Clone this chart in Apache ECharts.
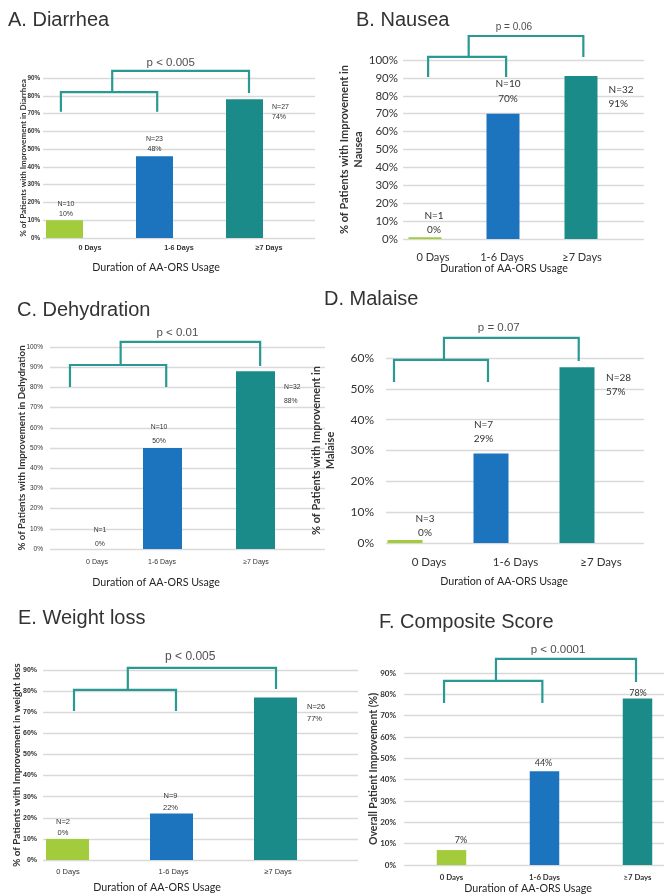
<!DOCTYPE html>
<html><head><meta charset="utf-8">
<script src="https://cdn.jsdelivr.net/npm/echarts@6/dist/echarts.min.js"></script>
<style>html,body{margin:0;padding:0;background:#fff}#c{width:672px;height:896px}</style>
</head><body><div id="c"></div>
<script>
// ---------------- DATA ----------------
const categories = ['0 Days', '1-6 Days', '\u22657 Days'];
const xAxisTitle = 'Duration of AA-ORS Usage';

const diarrheaValues = [10, 46, 78];
const diarrheaN = ['N=10', 'N=23', 'N=27'];
const diarrheaPct = ['10%', '48%', '74%'];
const diarrheaP = 'p < 0.005';

const nauseaValues = [1, 70, 91];
const nauseaN = ['N=1', 'N=10', 'N=32'];
const nauseaPct = ['0%', '70%', '91%'];
const nauseaP = 'p = 0.06';

const dehydrationValues = [0, 50, 88];
const dehydrationN = ['N=1', 'N=10', 'N=32'];
const dehydrationPct = ['0%', '50%', '88%'];
const dehydrationP = 'p < 0.01';

const malaiseValues = [1, 29, 57];
const malaiseN = ['N=3', 'N=7', 'N=28'];
const malaisePct = ['0%', '29%', '57%'];
const malaiseP = 'p = 0.07';

const weightValues = [10, 22, 77];
const weightN = ['N=2', 'N=9', 'N=26'];
const weightPct = ['0%', '22%', '77%'];
const weightP = 'p < 0.005';

const compositeValues = [7, 44, 78];
const compositePct = ['7%', '44%', '78%'];
const compositeP = 'p < 0.0001';

// bracket annotations in data units: [category position, percent]
const diarrheaBracketLow = [[-0.04, 71], [-0.04, 82], [1.03, 82], [1.03, 71]];
const diarrheaBracketHigh = [[0.53, 82], [0.53, 94], [2.05, 94], [2.05, 81.5]];
const nauseaBracketLow = [[0.04, 90.5], [0.04, 101.7], [1.04, 101.7], [1.04, 90.5]];
const nauseaBracketHigh = [[0.56, 101.7], [0.56, 113.4], [2.03, 113.4], [2.03, 101.7]];
const dehydrationBracketLow = [[0.005, 80.2], [0.005, 91.1], [1.04, 91.1], [1.04, 80.2]];
const dehydrationBracketHigh = [[0.55, 91.1], [0.55, 102.5], [2.05, 102.5], [2.05, 90.6]];
const malaiseBracketLow = [[-0.128, 52.2], [-0.128, 59.4], [0.965, 59.4], [0.965, 52.2]];
const malaiseBracketHigh = [[0.453, 59.4], [0.453, 66.5], [2.02, 66.5], [2.02, 59]];
const weightBracketLow = [[0.0625, 70.6], [0.0625, 80.6], [1.043, 80.6], [1.043, 70.6]];
const weightBracketHigh = [[0.58, 80.6], [0.58, 91], [2.005, 91], [2.005, 81]];
const compositeBracketLow = [[-0.08, 75.9], [-0.08, 86.3], [0.977, 86.3], [0.977, 75.9]];
const compositeBracketHigh = [[0.478, 86.3], [0.478, 96.6], [1.984, 96.6], [1.984, 85.8]];

// ---------------- STYLE / LAYOUT ----------------
const NARROW = '"Liberation Sans", Arial, sans-serif';
const LATO = 'Lato, "Open Sans", sans-serif';
const ARIAL = '"Liberation Sans", Arial, sans-serif';
const TEXT = '#333333';
const barColors = ['#a3cc3c', '#1c74bf', '#1b8b89'];
const bracketColor = '#2a9993';
const gridColor = '#d9d9d9';
function fnt(family, size, weight, color) {
  return { fontFamily: family, fontSize: size, fontWeight: weight || 'normal', color: color || TEXT };
}

const panels = [
  { title: 'A. Diarrhea', tx: 8, ty: 20, xtx: 156, xty: 268,
    values: diarrheaValues, n: diarrheaN, pct: diarrheaPct, p: diarrheaP, pPos: [1.18, 98.4], pFont: fnt(NARROW, 11.5, 'normal', '#222'),
    low: diarrheaBracketLow, high: diarrheaBracketHigh,
    yName: '% of Patients with Improvement in Diarrhea', yNameFont: fnt(LATO, 8.1, 'bold', '#333'), yNameGap: 16,
    yMax: 90, plot: { l: 43, r: 315, t: 78, b: 238 }, band: { l: 19.5, r: 289.5 }, barW: 37,
    tick: { font: fnt(NARROW, 6.3, 'bold'), margin: 3 },
    xLab: { font: fnt(NARROW, 7.2, 'bold'), margin: 7, shift: [25.5, 24.5, 24.5] },
    dl: { font: fnt(NARROW, 7), lh: 10, layout: [{ pos: 'top', dx: 1.5, d: 1 }, { pos: 'top', dx: 0, d: 2 }, { pos: 'right', gap: 9, dy: 3 }] } },
  { title: 'B. Nausea', tx: 356, ty: 20, xtx: 504, xty: 269,
    values: nauseaValues, n: nauseaN, pct: nauseaPct, p: nauseaP, pPos: [1.14, 118.4], pFont: fnt(NARROW, 10, 'normal', '#222'),
    low: nauseaBracketLow, high: nauseaBracketHigh,
    yName: '% of Patients with Improvement in\nNausea', yNameFont: Object.assign(fnt(LATO, 11, 'bold', '#333'), { lineHeight: 14 }), yNameGap: 38,
    yMax: 100, plot: { l: 403, r: 644, t: 60, b: 239 }, band: { l: 386, r: 620 }, barW: 33,
    tick: { font: fnt(LATO, 11.5, 'normal', '#333'), margin: 5 },
    xLab: { font: fnt(LATO, 11, 'normal', '#333'), margin: 12.5, shift: [8, -1, 1] },
    dl: { font: fnt(LATO, 10, 'normal', '#333'), lh: 14.5, layout: [{ pos: 'top', dx: 9, d: 0 }, { pos: 'top', dx: 5, d: 8 }, { pos: 'right', gap: 11, dy: 6 }] } },
  { title: 'C. Dehydration', tx: 17, ty: 310, xtx: 156, xty: 583,
    values: dehydrationValues, n: dehydrationN, pct: dehydrationPct, p: dehydrationP, pPos: [1.16, 106.9], pFont: fnt(NARROW, 11.5, 'normal', '#222'),
    low: dehydrationBracketLow, high: dehydrationBracketHigh,
    yName: '% of Patients with Improvement in Dehydration', yNameFont: fnt(LATO, 9.7, 'bold', '#333'), yNameGap: 23,
    yMax: 100, plot: { l: 50, r: 325, t: 347, b: 549 }, band: { l: 23, r: 302 }, barW: 39,
    tick: { font: fnt(NARROW, 6.5), margin: 7 },
    xLab: { font: fnt(NARROW, 7), margin: 10, shift: [27.5, -0.5, 0.5] },
    dl: { font: fnt(NARROW, 6.8), lh: 14, layout: [{ pos: 'top', dx: 30.5, d: -2 }, { pos: 'top', dx: -3.5, d: 0 }, { pos: 'right', gap: 9, dy: 9 }] } },
  { title: 'D. Malaise', tx: 324, ty: 299, xtx: 504, xty: 582,
    values: malaiseValues, n: malaiseN, pct: malaisePct, p: malaiseP, pPos: [1.09, 69.7], pFont: fnt(NARROW, 11.5, 'normal', '#222'),
    low: malaiseBracketLow, high: malaiseBracketHigh,
    yName: '% of Patients with Improvement in\nMalaise', yNameFont: Object.assign(fnt(LATO, 11, 'bold', '#333'), { lineHeight: 14 }), yNameGap: 49,
    yMax: 60, plot: { l: 386, r: 644, t: 358, b: 543 }, band: { l: 362, r: 620 }, barW: 35,
    tick: { font: fnt(LATO, 12, 'normal', '#333'), margin: 12 },
    xLab: { font: fnt(LATO, 11.5, 'normal', '#333'), margin: 13, shift: [24, 24.5, 24] },
    dl: { font: fnt(LATO, 10, 'normal', '#333'), lh: 14, layout: [{ pos: 'top', dx: 20, d: 0 }, { pos: 'top', dx: -7.5, d: 8 }, { pos: 'right', gap: 11.5, dy: 4 }] } },
  { title: 'E. Weight loss', tx: 18, ty: 618, xtx: 157, xty: 888,
    values: weightValues, n: weightN, pct: weightPct, p: weightP, pPos: [1.18, 96.2], pFont: fnt(NARROW, 12, 'normal', '#222'),
    low: weightBracketLow, high: weightBracketHigh,
    yName: '% of Patients with Improvement in weight loss', yNameFont: fnt(LATO, 9.9, 'bold', '#333'), yNameGap: 21,
    yMax: 90, plot: { l: 43, r: 358, t: 670, b: 860 }, band: { l: 15.5, r: 327.5 }, barW: 43,
    tick: { font: fnt(NARROW, 7, 'bold'), margin: 6 },
    xLab: { font: fnt(NARROW, 7.5), margin: 8, shift: [0.5, 2, 2.5] },
    dl: { font: fnt(NARROW, 7.5), lh: 11.5, layout: [{ pos: 'top', dx: -4.5, d: 0 }, { pos: 'top', dx: -1, d: 0 }, { pos: 'right', gap: 10, dy: 4 }] } },
  { title: 'F. Composite Score', tx: 379, ty: 622, xtx: 528, xty: 889,
    values: compositeValues, n: null, pct: compositePct, p: compositeP, pPos: [1.145, 100.8], pFont: fnt(NARROW, 11.5, 'normal', '#222'),
    low: compositeBracketLow, high: compositeBracketHigh,
    yName: 'Overall Patient Improvement (%)', yNameFont: fnt(LATO, 10.5, 'bold', '#333'), yNameGap: 24.5,
    yMax: 90, plot: { l: 404, r: 664, t: 673, b: 865 }, band: { l: 405, r: 684 }, barW: 29.5,
    tick: { font: fnt(LATO, 8, 'bold'), margin: 8 },
    xLab: { font: fnt(LATO, 7.8, 'bold', '#333'), margin: 8, shift: [0, 0, 0] },
    dl: { font: fnt(LATO, 9, 'normal', '#333'), lh: 11, layout: [{ pos: 'top', dx: 9.5, d: 4 }, { pos: 'top', dx: -1, d: 3 }, { pos: 'top', dx: 0.5, d: 0 }] } }
];

// ---------------- BUILD ----------------
const option = { animation: false, backgroundColor: '#ffffff', grid: [], xAxis: [], yAxis: [], series: [], graphic: [] };

panels.forEach(P => {
  const h = P.plot.b - P.plot.t;
  const gi = option.grid.length;
  option.grid.push({ left: P.plot.l, top: P.plot.t, width: P.plot.r - P.plot.l, height: h, containLabel: false, outerBoundsMode: 'none' });
  option.grid.push({ left: P.band.l, top: P.plot.t, width: P.band.r - P.band.l, height: h, containLabel: false, outerBoundsMode: 'none' });
  const xi = option.xAxis.length, yi = option.yAxis.length;

  const rich = {};
  P.xLab.shift.forEach((s, i) => {
    rich['s' + i] = Object.assign({}, P.xLab.font, { padding: [0, s < 0 ? -2 * s : 0, 0, s > 0 ? 2 * s : 0] });
  });

  option.xAxis.push({ type: 'value', gridIndex: gi, show: false, min: 0, max: 1 });
  option.xAxis.push({ type: 'category', gridIndex: gi + 1, data: categories,
    axisLine: { show: false }, axisTick: { show: false }, splitLine: { show: false },
    axisLabel: Object.assign({ interval: 0, margin: P.xLab.margin, formatter: (v, i) => '{s' + i + '|' + v + '}', rich: rich }, P.xLab.font) });
  option.xAxis.push({ type: 'value', gridIndex: gi + 1, show: false, min: -0.5, max: 2.5 });

  option.yAxis.push({ type: 'value', gridIndex: gi, min: 0, max: P.yMax, interval: 10,
    axisLine: { show: false }, axisTick: { show: false },
    splitLine: { show: true, lineStyle: { color: gridColor, width: 1.3 } },
    axisLabel: Object.assign({ formatter: '{value}%', margin: P.tick.margin }, P.tick.font),
    name: P.yName, nameLocation: 'middle', nameGap: P.yNameGap, nameMoveOverlap: false, nameTextStyle: P.yNameFont });
  option.yAxis.push({ type: 'value', gridIndex: gi + 1, show: false, min: 0, max: P.yMax });

  option.series.push({ type: 'bar', xAxisIndex: xi + 1, yAxisIndex: yi + 1, barWidth: P.barW, z: 3,
    data: P.values.map((v, i) => {
      const L = P.dl.layout[i];
      const lab = L.pos === 'top'
        ? { position: 'top', distance: L.d, offset: [L.dx, 0] }
        : { position: [P.barW + L.gap, L.dy], align: 'left', verticalAlign: 'top' };
      return { value: v, itemStyle: { color: barColors[i] }, label: lab };
    }),
    label: Object.assign({ show: true, lineHeight: P.dl.lh,
      formatter: p => (P.n ? P.n[p.dataIndex] + '\n' : '') + P.pct[p.dataIndex] }, P.dl.font)
  });

  [P.low, P.high].forEach(pts => option.series.push({ type: 'line', xAxisIndex: xi + 2, yAxisIndex: yi + 1,
    data: pts, symbol: 'none', clip: false, silent: true, z: 4,
    lineStyle: { color: bracketColor, width: 2.2, cap: 'butt', join: 'miter' } }));

  option.series.push({ type: 'scatter', xAxisIndex: xi + 2, yAxisIndex: yi + 1, data: [P.pPos],
    symbolSize: 1, clip: false, silent: true, itemStyle: { color: 'rgba(0,0,0,0)' },
    label: Object.assign({ show: true, position: 'inside', formatter: P.p }, P.pFont) });

  option.graphic.push({ type: 'text', x: P.tx, y: P.ty, style: { text: P.title, fill: '#333333',
    fontSize: 20, fontFamily: ARIAL, verticalAlign: 'middle', textVerticalAlign: 'middle' } });
  option.graphic.push({ type: 'text', x: P.xtx, y: P.xty, style: { text: xAxisTitle, fill: '#262626',
    fontSize: 10.7, fontFamily: LATO, align: 'center', textAlign: 'center', verticalAlign: 'middle', textVerticalAlign: 'middle' } });
});

const chart = echarts.init(document.getElementById('c'), null, { renderer: 'canvas', width: 672, height: 896 });
chart.setOption(option);
</script></body></html>
